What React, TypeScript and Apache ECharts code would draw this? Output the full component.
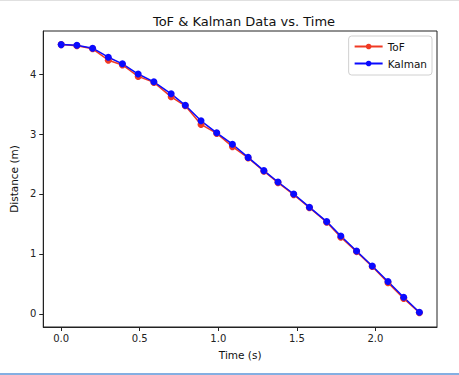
import React, { useEffect, useRef } from "react";
import * as echarts from "echarts";

const times = [0.0, 0.1, 0.2, 0.3, 0.39, 0.49, 0.59, 0.7, 0.79, 0.89, 0.99, 1.09, 1.19, 1.29, 1.38, 1.48, 1.58, 1.69, 1.78, 1.88, 1.98, 2.08, 2.18, 2.28];
const tofValues = [4.49, 4.47, 4.42, 4.23, 4.15, 3.96, 3.86, 3.62, 3.47, 3.16, 3.01, 2.79, 2.6, 2.38, 2.19, 1.99, 1.77, 1.53, 1.28, 1.04, 0.79, 0.52, 0.26, 0.02];
const kalmanValues = [4.49, 4.48, 4.43, 4.28, 4.17, 4.0, 3.87, 3.67, 3.48, 3.22, 3.02, 2.83, 2.61, 2.39, 2.2, 2.0, 1.78, 1.54, 1.3, 1.05, 0.8, 0.54, 0.28, 0.03];
const xTicks = [0, 0.5, 1.0, 1.5, 2.0];
const yTicks = [0, 1, 2, 3, 4];

const FONT = "DejaVu Sans";

export default function App() {
  const ref = useRef<HTMLDivElement>(null);
  useEffect(() => {
    document.body.style.margin = "0";
    const chart = echarts.init(ref.current!, null, { renderer: "svg" });
    const pair = (vals: number[]) => times.map((t, i) => [t, vals[i]]);
    chart.setOption({
      animation: false,
      backgroundColor: "#fff",
      textStyle: { fontFamily: FONT },
      title: {
        text: "ToF & Kalman Data vs. Time",
        left: 239,
        textAlign: "center",
        top: 10,
        textStyle: { fontFamily: FONT, fontSize: 13, fontWeight: "normal", color: "#111" },
      },
      legend: {
        orient: "vertical",
        right: 27,
        top: 36,
        padding: [5, 5, 6, 5],
        itemGap: 6,
        itemWidth: 28,
        itemHeight: 7,
        borderColor: "#d0d0d0",
        borderWidth: 1,
        borderRadius: 3,
        textStyle: { fontFamily: FONT, fontSize: 10.5, color: "#111", lineHeight: 11 },
        data: ["ToF", "Kalman"],
      },
      grid: {
        left: 41,
        top: 31,
        width: 396,
        height: 296,
        show: true,
        borderColor: "#222",
        borderWidth: 1,
        containLabel: false,
      },
      xAxis: {
        type: "value",
        min: -0.114,
        max: 2.392,
        name: "Time (s)",
        nameLocation: "middle",
        nameGap: 22,
        nameTextStyle: { fontFamily: FONT, fontSize: 10.5, color: "#111" },
        axisLine: { show: true, onZero: false, lineStyle: { color: "#222" } },
        axisTick: { show: true, customValues: xTicks, length: 4, lineStyle: { color: "#222" } },
        axisLabel: {
          customValues: xTicks,
          formatter: (v: number) => v.toFixed(1),
          fontFamily: FONT,
          fontSize: 10,
          color: "#222",
          margin: 6,
        },
        splitLine: { show: false },
      },
      yAxis: {
        type: "value",
        min: -0.217,
        max: 4.717,
        name: "Distance (m)",
        nameLocation: "middle",
        nameRotate: 90,
        nameGap: 19,
        nameTextStyle: { fontFamily: FONT, fontSize: 10.5, color: "#111" },
        axisLine: { show: true, onZero: false, lineStyle: { color: "#222" } },
        axisTick: { show: true, customValues: yTicks, length: 4, lineStyle: { color: "#222" } },
        axisLabel: {
          customValues: yTicks,
          formatter: (v: number) => String(v),
          fontFamily: FONT,
          fontSize: 10,
          color: "#222",
          margin: 7,
        },
        splitLine: { show: false },
      },
      series: [
        {
          name: "ToF",
          type: "line",
          data: pair(tofValues),
          symbol: "circle",
          symbolSize: 7,
          color: "#f03a24",
          lineStyle: { width: 1.5, color: "#f03a24" },
          itemStyle: { color: "#f03a24" },
        },
        {
          name: "Kalman",
          type: "line",
          data: pair(kalmanValues),
          symbol: "circle",
          symbolSize: 7,
          color: "#0a0aff",
          lineStyle: { width: 1.5, color: "#0a0aff" },
          itemStyle: { color: "#0a0aff" },
        },
      ],
      graphic: [
        { type: "line", shape: { x1: 0, y1: 0.5, x2: 459, y2: 0.5 }, style: { stroke: "#e0e0e0", lineWidth: 1 } },
        { type: "line", shape: { x1: 0, y1: 374, x2: 459, y2: 374 }, style: { stroke: "#5b95d8", lineWidth: 1.5 } },
      ],
    });
    return () => chart.dispose();
  }, []);
  return <div ref={ref} style={{ width: 459, height: 375, position: "fixed", left: 0, top: 0 }} />;
}
